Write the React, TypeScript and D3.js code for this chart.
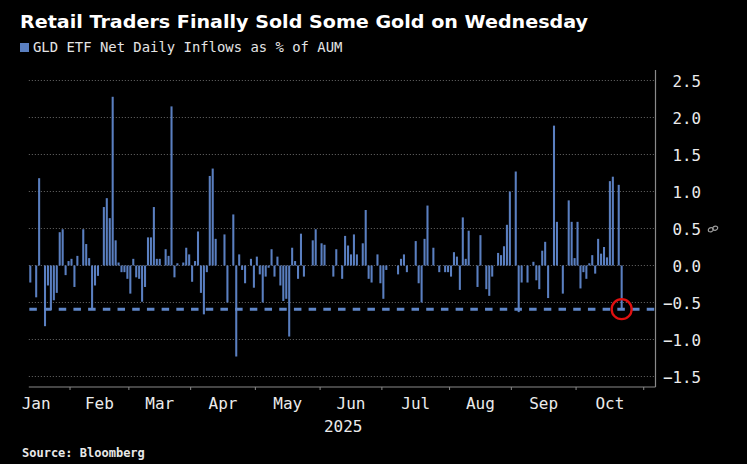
import React from "react";
import * as d3 from "d3";

// ---- Data -------------------------------------------------------------
const title = "Retail Traders Finally Sold Some Gold on Wednesday";
const legendLabel = "GLD ETF Net Daily Inflows as % of AUM";
const sourceLabel = "Source: Bloomberg";
const yearLabel = "2025";

// first / last trading day shown (weekdays, holidays are null)
const firstDay = new Date(2025, 0, 14);
const lastDay = new Date(2025, 9, 22);

// GLD net daily inflows as % of AUM, one per weekday Jan 14 .. Oct 22 2025
const inflows: (number | null)[] = [
  -0.23, 0, -0.43, 1.18, null, -0.82, -0.27, -0.6, -0.47, -0.37,
  0.45, 0.49, -0.13, 0.06, 0.09, -0.29, 0.13, 0, 0.49, 0.29,
  0.1, -0.6, -0.27, -0.14, null, 0.79, 0.91, 0.64, 2.28, 0.34,
  0.04, -0.09, -0.09, -0.18, -0.38, 0.09, -0.16, -0.18, -0.49, -0.29,
  0.38, 0.38, 0.79, 0.09, 0.09, 0, 0.22, 0.13, 2.15, -0.16,
  0.03, 0, 0.04, 0.24, 0.15, -0.22, 0.06, 0.46, -0.37, -0.66,
  -0.09, 1.21, 1.31, 0.36, 0, 0, 0.42, -0.5, null, 0.69,
  -1.23, 0.15, -0.06, -0.24, 0, 0.09, -0.3, 0.12, -0.12, -0.5,
  -0.15, -0.03, 0.22, -0.15, 0.12, -0.27, -0.48, -0.45, -0.96, 0.24,
  0.06, -0.18, 0.43, -0.15, null, 0, 0.34, 0.49, 0, 0.3,
  0.28, 0, 0, -0.15, 0.22, 0, -0.18, 0.4, 0.27, 0.15,
  0.42, 0.15, null, 0.3, 0.75, -0.18, -0.23, 0, 0.15, -0.24,
  -0.45, -0.06, 0, null, 0, -0.12, 0.09, 0.15, -0.09, 0,
  0, 0.33, -0.24, -0.5, 0.36, 0.81, 0, 0.24, 0, -0.09,
  0, -0.09, -0.09, -0.15, 0.18, 0.12, -0.33, 0.65, 0.09, 0.47,
  0, 0, -0.29, 0.41, 0, -0.32, -0.41, -0.15, 0, 0.17,
  0.14, 0.26, 0.55, 1.0, null, 1.27, -0.63, -0.23, 0, -0.23,
  0, 0.05, -0.2, -0.32, 0.2, 0.32, -0.44, 0, 1.89, 0.59,
  0, -0.38, 0, 0.88, 0.59, 0.1, 0.59, -0.31, -0.09, -0.18,
  0.03, 0.14, -0.11, 0.36, 0.16, 0.25, 0.11, 1.14, 1.2, 0,
  1.09, -0.59,
];

const referenceLevel = -0.59; // Wednesday's outflow, dashed line
const yTicks = [2.5, 2.0, 1.5, 1.0, 0.5, 0.0, -0.5, -1.0, -1.5];
const monthLabels = ["Jan", "Feb", "Mar", "Apr", "May", "Jun", "Jul", "Aug", "Sep", "Oct"];

// ---- Layout -------------------------------------------------------------
const W = 747;
const H = 464;
const BAR = "#5a7fc0";

const isWeekday = (d: Date) => d.getDay() !== 0 && d.getDay() !== 6;
const axisDays = d3.timeDay.range(new Date(2025, 0, 1), new Date(2025, 10, 7)).filter(isWeekday);
const dataDays = d3.timeDay.range(firstDay, d3.timeDay.offset(lastDay, 1)).filter(isWeekday);
const key = (d: Date) => d3.timeFormat("%Y-%m-%d")(d);

export default function App() {
  const x = d3
    .scaleBand<string>()
    .domain(axisDays.map(key))
    .range([2.35, 655.5])
    .paddingInner(0.3)
    .paddingOuter(0.15);
  const y = d3.scaleLinear().domain([-1.5, 2.5]).range([376.5, 80.5]);

  const step = x.step();
  const boundary = (d: Date) => (x(key(d)) as number) - step * 0.15;
  const left = boundary(firstDay);
  const right = 655.5;
  const top = 70;
  const bottom = 387;

  const bars = dataDays.map((d, i) => ({ d, v: inflows[i] }));
  const monthStarts = d3.range(0, 11).map((m) => {
    let d = new Date(2025, m, 1);
    while (!isWeekday(d)) d = d3.timeDay.offset(d, 1);
    return d;
  });
  const monthBounds = monthStarts.map(boundary);
  const last = bars[bars.length - 1];
  const cx = (x(key(last.d)) as number) + x.bandwidth() / 2;
  const cy = y(referenceLevel);

  return (
    <div>
      <style>{`body{margin:0;background:#000}`}</style>
      <svg width={W} height={H} style={{ display: "block", background: "#000" }}>
        <rect x={0} y={0} width={W} height={H} fill="#000" />
        <text
          x={20}
          y={28}
          fill="#ffffff"
          fontFamily="'DejaVu Sans', Verdana, sans-serif"
          fontWeight="bold"
          fontSize={18}
          textLength={568}
          lengthAdjust="spacingAndGlyphs"
        >
          {title}
        </text>
        <rect x={20} y={43} width={9} height={9} fill={BAR} />
        <text x={33} y={52} fill="#e4e4e4" fontFamily="'DejaVu Sans Mono', monospace" fontSize={13.9}>
          {legendLabel}
        </text>

        {/* gridlines */}
        {yTicks.map((t) => (
          <line
            key={t}
            x1={left}
            x2={right}
            y1={y(t)}
            y2={y(t)}
            stroke="#6a6a6a"
            strokeWidth={1}
            strokeDasharray="1 2"
          />
        ))}

        {/* bars */}
        {bars
          .filter((b) => b.v !== null && b.v !== 0)
          .map((b) => {
            const v = b.v as number;
            return (
              <rect
                key={key(b.d)}
                x={x(key(b.d))}
                width={x.bandwidth()}
                y={Math.min(y(v), y(0))}
                height={Math.abs(y(v) - y(0))}
                fill={BAR}
              />
            );
          })}

        {/* reference dashed line */}
        <line
          x1={left + 0.5}
          x2={right}
          y1={cy}
          y2={cy}
          stroke="#5f86c8"
          strokeWidth={3}
          strokeDasharray="7.5 7.2"
        />
        <circle cx={cx} cy={cy} r={10} fill="none" stroke="#e01010" strokeWidth={2.3} />

        {/* axes */}
        <line x1={right} x2={right} y1={top} y2={bottom} stroke="#8a8a8a" strokeWidth={1.2} />
        <line x1={left} x2={right} y1={bottom} y2={bottom} stroke="#8a8a8a" strokeWidth={1.2} />
        {monthBounds.slice(1).map((b, i) => (
          <line key={i} x1={b} x2={b} y1={bottom} y2={bottom + 3} stroke="#8a8a8a" strokeWidth={1} />
        ))}

        {yTicks.map((t) => (
          <text
            key={t}
            x={701}
            y={y(t) + 6}
            textAnchor="end"
            fill="#ebebeb"
            fontFamily="'DejaVu Sans Mono', monospace"
            fontSize={15.8}
          >
            {d3.format(".1f")(t)}
          </text>
        ))}
        {/* link icon */}
        <g transform={`translate(713,229) rotate(-20)`} stroke="#9a9a9a" strokeWidth={1.2} fill="none">
          <ellipse cx={-2.3} cy={0} rx={2.6} ry={2} />
          <ellipse cx={2.3} cy={0} rx={2.6} ry={2} />
        </g>

        {monthLabels.map((m, i) => (
          <text
            key={m}
            x={(monthBounds[i] + monthBounds[i + 1]) / 2}
            y={409}
            textAnchor="middle"
            fill="#ebebeb"
            fontFamily="'DejaVu Sans Mono', monospace"
            fontSize={16}
          >
            {m}
          </text>
        ))}
        <text
          x={(left + right) / 2 + 1}
          y={432}
          textAnchor="middle"
          fill="#ebebeb"
          fontFamily="'DejaVu Sans Mono', monospace"
          fontSize={16}
        >
          {yearLabel}
        </text>
        <text
          x={22}
          y={457}
          fill="#e8e8e8"
          fontFamily="'DejaVu Sans Mono', monospace"
          fontWeight="bold"
          fontSize={12}
        >
          {sourceLabel}
        </text>
      </svg>
    </div>
  );
}
